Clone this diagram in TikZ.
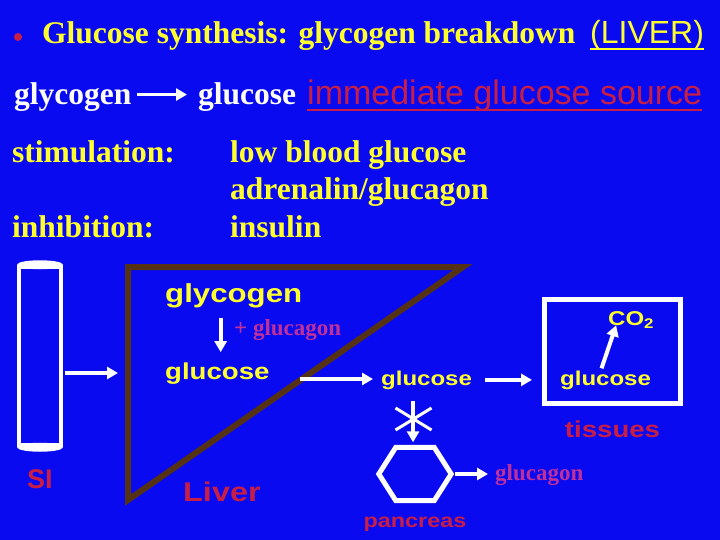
\documentclass[tikz,border=0pt]{standalone}
\usepackage{fontspec}
\setmainfont{Liberation Serif}
\setsansfont{Liberation Sans}
\newfontfamily\anchasans[FakeStretch=1.2]{Liberation Sans}
\usetikzlibrary{arrows.meta,positioning}
\definecolor{Fondo}{HTML}{0A0AF0}
\definecolor{Amarillo}{HTML}{FFFF2E}
\definecolor{Carmesi}{HTML}{C81E46}
\definecolor{Fucsia}{HTML}{C0309A}
\definecolor{Marron}{HTML}{553214}

\begin{document}
\begin{tikzpicture}[x=1pt,y=-1pt,
  every node/.style={inner sep=0pt,anchor=base west},
  cab/.style={font=\bfseries\fontsize{31.5}{36}\selectfont},
  rotulo/.style={font=\anchasans\bfseries\fontsize{#1}{#1}\selectfont},
  hormona/.style={font=\bfseries\fontsize{23}{26}\selectfont,text=Fucsia},
  arr/.style={white,line width=4pt,-{Triangle[length=11pt,width=12pt]}}]
  \fill[Fondo] (0,0) rectangle (720,540);
  % cabecera
  \fill[Carmesi] (18,37) circle (4);
  \node[cab,text=Amarillo] (titulo) at (42,44) {Glucose synthesis: glycogen breakdown};
  \node[font=\sffamily\fontsize{32}{36}\selectfont,text=Amarillo] (higado) at (590,44) {(LIVER)};
  \draw[Amarillo,line width=2.5pt] ([yshift=-5pt]higado.base west) -- ([yshift=-5pt]higado.base east);
  \node[cab,text=white] (gly) at (14,105) {glycogen};
  \node[cab,text=white] (glu) at (198,105) {glucose};
  \draw[arr,line width=3.5pt,shorten <=5pt,shorten >=11pt] ([yshift=3pt]gly.east) -- ([yshift=3pt]gly.east -| glu.west);
  \node[font=\sffamily\fontsize{34}{38}\selectfont,text=Carmesi] (fuente) at (307,105) {immediate glucose source};
  \draw[Carmesi,line width=2.5pt] ([yshift=-5pt]fuente.base west) -- ([yshift=-5pt]fuente.base east);
  \node[cab,text=Amarillo] (estim) at (12,163) {stimulation:};
  \node[cab,text=Amarillo] (bajo) at (230,163) {low blood glucose};
  \node[cab,text=Amarillo] (horm) at (230,200) {adrenalin/glucagon};
  \node[cab,text=Amarillo] (inhib) at (12,237) {inhibition:};
  \node[cab,text=Amarillo] (insu) at (230,237) {insulin};
  % intestino
  \node[draw=white,line width=4.5pt,minimum width=42,minimum height=178,anchor=center] (tubo) at (40,356) {};
  \fill[white] (tubo.north) ellipse (23 and 4.5);
  \fill[white] (tubo.south) ellipse (23 and 4.5);
  \node[font=\sffamily\bfseries\fontsize{27}{30}\selectfont,text=Carmesi] (si) at (27,488) {SI};
  % higado
  \coordinate (lvA) at (128,267);
  \coordinate (lvB) at (463,267);
  \coordinate (lvC) at (128,500);
  \draw[Marron,line width=6pt] (lvA) -- (lvB) -- (lvC) -- cycle;
  \coordinate (lvIn) at (118,373);
  \draw[arr,shorten <=2pt] ([yshift=-17pt]tubo.east) -- (lvIn);
  \node[rotulo=26,text=Amarillo] (glyT) at (165,302) {glycogen};
  \node[rotulo=23,text=Amarillo] (gluT) at (165,379) {glucose};
  \node[hormona] (mas) at (234,335) {+ glucagon};
  \draw[arr,shorten <=10pt,shorten >=10pt] ([xshift=-13pt]glyT.south) -- ([xshift=-13pt]glyT.south |- gluT.north);
  \node[rotulo=27,text=Carmesi] (liv) at (183,501) {Liver};
  % sangre y tejidos
  \node[rotulo=20,text=Amarillo] (gluM) at (381,385) {glucose};
  \draw[arr,shorten <=30pt,shorten >=8pt] (gluT.base east) -- (gluT.base east -| gluM.west);
  \node[draw=white,line width=5pt,minimum width=136,minimum height=104,anchor=center] (tejido) at (612.5,351.5) {};
  \draw[arr,shorten <=13pt,shorten >=10pt] (gluM.east) -- (gluM.east -| tejido.west);
  \node[rotulo=20,text=Amarillo] (gluB) at (560,385) {glucose};
  \node[rotulo=20,text=Amarillo] (co) at (608,325) {CO\textsubscript{2}};
  \draw[arr] ([xshift=-4pt,yshift=2pt]gluB.north) -- ([xshift=-15pt,yshift=3pt]co.south);
  \node[rotulo=23,text=Carmesi,below=15pt of tejido] (tis) {tissues};
  % pancreas
  \node[minimum width=72,minimum height=53,anchor=center] (panc) at (415,474) {};
  \draw[white,line width=5pt] (panc.west) -- ([xshift=17pt]panc.north west) -- ([xshift=-17pt]panc.north east)
    -- (panc.east) -- ([xshift=-17pt]panc.south east) -- ([xshift=17pt]panc.south west) -- cycle;
  \node[rotulo=19.5,text=Carmesi,below=16pt of panc] (pan) {pancreas};
  \draw[arr,shorten <=12pt,shorten >=5pt] ([xshift=-13.5pt]gluM.south) -- ([xshift=-13.5pt]gluM.south |- panc.north);
  \coordinate (bloqueo) at (413.5,419);
  \draw[white,line width=3pt] ([shift={(-18pt,11pt)}]bloqueo) -- ([shift={(18pt,-11pt)}]bloqueo);
  \draw[white,line width=3pt] ([shift={(-18pt,-11pt)}]bloqueo) -- ([shift={(18pt,11pt)}]bloqueo);
  \node[hormona] (glucag) at (495,480) {glucagon};
  \draw[arr,shorten <=4pt,shorten >=7pt] (panc.east) -- (panc.east -| glucag.west);
\end{tikzpicture}
\end{document}
